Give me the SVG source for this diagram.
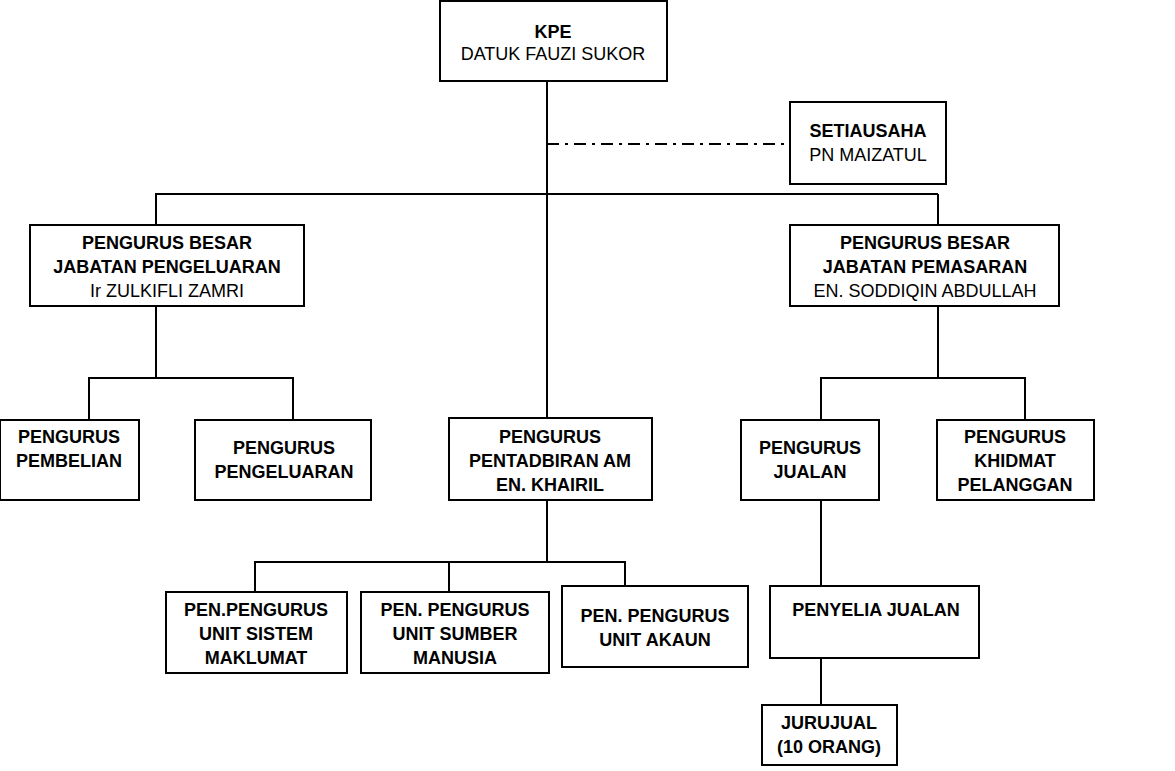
<svg xmlns="http://www.w3.org/2000/svg" width="1175" height="771" viewBox="0 0 1175 771">
<style>
rect{fill:#fff;stroke:#000;stroke-width:2}
line{stroke:#000;stroke-width:2}
text{font-family:"Liberation Sans",Arial,sans-serif;font-size:18px;text-anchor:middle;fill:#000}
.b{font-weight:bold}
</style>
<rect x="0" y="0" width="1175" height="771" style="stroke:none"/>
<g id="connectors">
<line x1="547" y1="81" x2="547" y2="418"/>
<line x1="547" y1="144" x2="790" y2="144" stroke-dasharray="12,6,3,6"/>
<line x1="155" y1="194" x2="938" y2="194"/>
<line x1="156" y1="194" x2="156" y2="225"/>
<line x1="938" y1="194" x2="938" y2="225"/>
<line x1="156" y1="306" x2="156" y2="378"/>
<line x1="88" y1="378" x2="294" y2="378"/>
<line x1="89" y1="378" x2="89" y2="420"/>
<line x1="293" y1="378" x2="293" y2="420"/>
<line x1="938" y1="306" x2="938" y2="378"/>
<line x1="820" y1="378" x2="1026" y2="378"/>
<line x1="821" y1="378" x2="821" y2="420"/>
<line x1="1025" y1="378" x2="1025" y2="420"/>
<line x1="547" y1="500" x2="547" y2="562"/>
<line x1="254" y1="562" x2="626" y2="562"/>
<line x1="255" y1="562" x2="255" y2="592"/>
<line x1="449" y1="562" x2="449" y2="592"/>
<line x1="625" y1="562" x2="625" y2="586"/>
<line x1="821" y1="500" x2="821" y2="586"/>
<line x1="821" y1="658" x2="821" y2="705"/>
</g>
<g id="kpe"><rect x="440" y="1" width="227" height="80"/><text x="553" y="38" class="b">KPE</text><text x="553" y="60">DATUK FAUZI SUKOR</text></g>
<g id="setiausaha"><rect x="790" y="102" width="156" height="82"/><text x="868" y="137" class="b">SETIAUSAHA</text><text x="868" y="161">PN MAIZATUL</text></g>
<g id="pb-pengeluaran"><rect x="30" y="225" width="274" height="81"/><text x="167" y="249" class="b">PENGURUS BESAR</text><text x="167" y="273" class="b">JABATAN PENGELUARAN</text><text x="167" y="297">Ir ZULKIFLI ZAMRI</text></g>
<g id="pb-pemasaran"><rect x="790" y="225" width="269" height="81"/><text x="925" y="249" class="b">PENGURUS BESAR</text><text x="925" y="273" class="b">JABATAN PEMASARAN</text><text x="925" y="297">EN. SODDIQIN ABDULLAH</text></g>
<g id="pembelian"><rect x="0" y="420" width="139" height="80"/><text x="69" y="443" class="b">PENGURUS</text><text x="69" y="467" class="b">PEMBELIAN</text></g>
<g id="pengeluaran"><rect x="195" y="420" width="176" height="80"/><text x="284" y="454" class="b">PENGURUS</text><text x="284" y="478" class="b">PENGELUARAN</text></g>
<g id="pentadbiran"><rect x="449" y="418" width="203" height="82"/><text x="550" y="443" class="b">PENGURUS</text><text x="550" y="467" class="b">PENTADBIRAN AM</text><text x="550" y="491" class="b">EN. KHAIRIL</text></g>
<g id="jualan"><rect x="741" y="420" width="138" height="80"/><text x="810" y="454" class="b">PENGURUS</text><text x="810" y="478" class="b">JUALAN</text></g>
<g id="khidmat"><rect x="937" y="420" width="157" height="80"/><text x="1015" y="443" class="b">PENGURUS</text><text x="1015" y="467" class="b">KHIDMAT</text><text x="1015" y="491" class="b">PELANGGAN</text></g>
<g id="sistem"><rect x="166" y="592" width="181" height="81"/><text x="256" y="616" class="b">PEN.PENGURUS</text><text x="256" y="640" class="b">UNIT SISTEM</text><text x="256" y="664" class="b">MAKLUMAT</text></g>
<g id="sumber"><rect x="361" y="592" width="188" height="81"/><text x="455" y="616" class="b">PEN. PENGURUS</text><text x="455" y="640" class="b">UNIT SUMBER</text><text x="455" y="664" class="b">MANUSIA</text></g>
<g id="akaun"><rect x="562" y="586" width="186" height="81"/><text x="655" y="622" class="b">PEN. PENGURUS</text><text x="655" y="646" class="b">UNIT AKAUN</text></g>
<g id="penyelia"><rect x="770" y="586" width="209" height="72"/><text x="876" y="616" class="b">PENYELIA JUALAN</text></g>
<g id="jurujual"><rect x="762" y="705" width="135" height="60"/><text x="829" y="729" class="b">JURUJUAL</text><text x="829" y="753" class="b">(10 ORANG)</text></g>
</svg>
